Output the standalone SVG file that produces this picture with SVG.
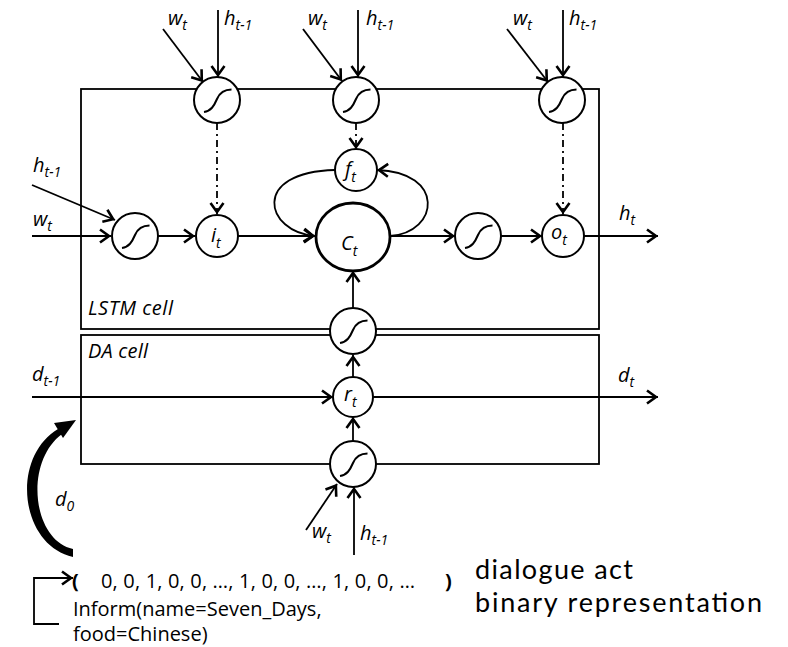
<svg xmlns="http://www.w3.org/2000/svg" xmlns:xlink="http://www.w3.org/1999/xlink" width="788" height="647" viewBox="0 0 788 647">
<style>
.box{fill:none;stroke:#000;stroke-width:1.8}
.ln{fill:none;stroke:#000;stroke-width:1.8}
.arr{marker-end:url(#ah)}
.dd{stroke-dasharray:7 4 2 4}
.nd{fill:#fff;stroke:#000;stroke-width:2}
.big{fill:#fff;stroke:#000;stroke-width:2.8}
.sg{fill:none;stroke:#000;stroke-width:2}
.lbl{font-family:"Open Sans","DejaVu Sans",sans-serif;font-style:italic;font-size:20px;fill:#000}
.sub{font-size:14px}
.txt{font-family:"Open Sans","DejaVu Sans",sans-serif;font-size:20px;fill:#000}
.big-txt{font-family:Lato,"Open Sans",sans-serif;font-size:27px;fill:#000}
</style>
<defs>
<marker id="ah" viewBox="-13 -8 14 16" refX="0" refY="0" markerWidth="14" markerHeight="16" markerUnits="userSpaceOnUse" orient="auto">
<path d="M-11,-6.5 L-2,0 L-11,6.5" fill="none" stroke="#000" stroke-width="2.6"/>
</marker>
<path id="sgm" class="sg" d="M-13,12 C-6,11 -3,6 0,-1 S9,-10.5 14.5,-10.5"/>
</defs>

<g id="lstm-cell">
<rect class="box" x="81" y="89" width="518" height="240"/>
<text class="lbl" x="88" y="315" font-size="19" textLength="85">LSTM cell</text>
</g>
<g id="da-cell">
<rect class="box" x="81" y="335" width="518" height="129"/>
<text class="lbl" x="88" y="358" font-size="19" textLength="60">DA cell</text>
</g>

<g id="connectors">
<path class="ln arr" d="M218,10 L218,77"/>
<path class="ln arr" d="M163,29 L203,82"/>
<path class="ln arr" d="M358,10 L358,77"/>
<path class="ln arr" d="M303,29 L342,81"/>
<path class="ln arr" d="M563,10 L563,77"/>
<path class="ln arr" d="M507,29 L548,82"/>
<path class="ln arr dd" d="M217,123 L217,214"/>
<path class="ln arr dd" d="M356,123 L356,149"/>
<path class="ln arr dd" d="M563,123 L563,214"/>
<path class="ln arr" d="M32,236 L111,236"/>
<path class="ln arr" d="M32,185 L115,220"/>
<path class="ln arr" d="M158,236 L195,236"/>
<path class="ln arr" d="M238,236 L315,236"/>
<path class="ln arr" d="M390,236 L455,236"/>
<path class="ln arr" d="M501,236 L542,236"/>
<path class="ln arr" d="M584,236 L658,236"/>
<path class="ln arr" d="M335,170 C250,172 265,232 315,236"/>
<path class="ln arr" d="M390,236 C440,232 445,172 377,170"/>
<path class="ln arr" d="M353,308 L353,271"/>
<path class="ln arr" d="M353,377 L353,355"/>
<path class="ln arr" d="M353,441 L353,417"/>
<path class="ln arr" d="M32,397 L333,397"/>
<path class="ln arr" d="M373,397 L658,397"/>
<path class="ln arr" d="M306,530 L337,484"/>
<path class="ln arr" d="M354,555 L354,487"/>
<path class="ln arr" d="M59,624 L34,624 L34,578 L73,578"/>
<path d="M73,557 C20,545 10,458 58,429 L62,434 C24,462 32,540 73,549 Z" fill="#000"/>
<path d="M76,420 L54,423 L63,438 Z" fill="#000"/>
</g>

<g id="gate-i-sigmoid"><circle class="nd" cx="217" cy="100" r="23"/><use xlink:href="#sgm" x="217" y="100"/></g>
<g id="gate-f-sigmoid"><circle class="nd" cx="356" cy="100" r="23"/><use xlink:href="#sgm" x="356" y="100"/></g>
<g id="gate-o-sigmoid"><circle class="nd" cx="562" cy="100" r="23"/><use xlink:href="#sgm" x="562" y="100"/></g>
<g id="input-sigmoid"><circle class="nd" cx="135" cy="236" r="23"/><use xlink:href="#sgm" x="135" y="236"/></g>
<g id="i-t"><circle class="nd" cx="217" cy="236" r="21"/><text class="lbl" x="211" y="242">i<tspan class="sub" dy="6">t</tspan></text></g>
<g id="f-t"><circle class="nd" cx="356" cy="170" r="21"/><text class="lbl" x="345" y="176">f<tspan class="sub" dy="6">t</tspan></text></g>
<g id="c-t"><ellipse class="big" cx="353" cy="237" rx="37" ry="34"/><text class="lbl" x="341" y="250" font-size="22">C<tspan class="sub" dy="6">t</tspan></text></g>
<g id="output-sigmoid"><circle class="nd" cx="478" cy="236" r="23"/><use xlink:href="#sgm" x="478" y="236"/></g>
<g id="o-t"><circle class="nd" cx="563" cy="236" r="21"/><text class="lbl" x="551" y="239">o<tspan class="sub" dy="6">t</tspan></text></g>
<g id="da-sigmoid"><circle class="nd" cx="353" cy="331" r="23"/><use xlink:href="#sgm" x="353" y="331"/></g>
<g id="r-t"><circle class="nd" cx="353" cy="397" r="20"/><text class="lbl" x="344" y="401">r<tspan class="sub" dy="6">t</tspan></text></g>
<g id="r-sigmoid"><circle class="nd" cx="353" cy="464" r="23"/><use xlink:href="#sgm" x="353" y="464"/></g>

<g id="labels">
<text class="lbl" x="168" y="25">w<tspan class="sub" dy="5">t</tspan></text>
<text class="lbl" x="224" y="25">h<tspan class="sub" dy="5">t-1</tspan></text>
<text class="lbl" x="308" y="25">w<tspan class="sub" dy="5">t</tspan></text>
<text class="lbl" x="366" y="25">h<tspan class="sub" dy="5">t-1</tspan></text>
<text class="lbl" x="513" y="25">w<tspan class="sub" dy="5">t</tspan></text>
<text class="lbl" x="569" y="25">h<tspan class="sub" dy="5">t-1</tspan></text>
<text class="lbl" x="33" y="172">h<tspan class="sub" dy="5">t-1</tspan></text>
<text class="lbl" x="33" y="226">w<tspan class="sub" dy="5">t</tspan></text>
<text class="lbl" x="619" y="220">h<tspan class="sub" dy="5">t</tspan></text>
<text class="lbl" x="32" y="381">d<tspan class="sub" dy="5">t-1</tspan></text>
<text class="lbl" x="618" y="382">d<tspan class="sub" dy="5">t</tspan></text>
<text class="lbl" x="55" y="506">d<tspan class="sub" dy="5">0</tspan></text>
<text class="lbl" x="312" y="538">w<tspan class="sub" dy="5">t</tspan></text>
<text class="lbl" x="360" y="540">h<tspan class="sub" dy="5">t-1</tspan></text>
</g>

<g id="dialogue-act">
<text class="txt" x="72" y="588" font-size="20" font-weight="bold">(</text>
<text class="txt" x="101" y="588" font-size="19" textLength="314">0, 0, 1, 0, 0, …, 1, 0, 0, …, 1, 0, 0, …</text>
<text class="txt" x="445" y="588" font-size="17" font-weight="bold">)</text>
<text class="txt" x="73" y="616">Inform(name=Seven_Days,<tspan x="73" dy="25">food=Chinese)</tspan></text>
<text class="big-txt" x="475" y="579" textLength="158">dialogue act</text>
<text class="big-txt" x="475" y="612" textLength="287">binary representation</text>
</g>
</svg>
